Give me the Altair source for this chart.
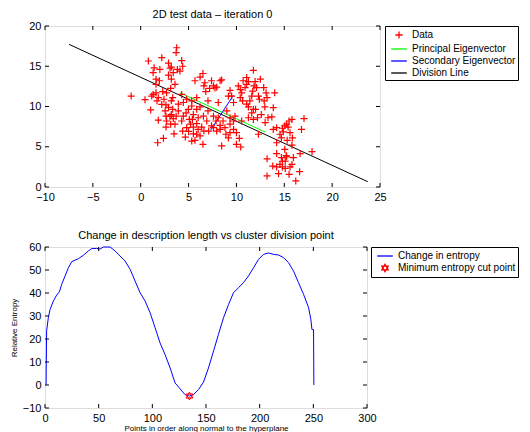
import altair as alt
import pandas as pd

FONT = "Liberation Sans"

# ---- top panel data ----
pts_x = [-1.0, 0.8, 0.45, 1.15, 1.04, 1.3, 1.4, 2.2, 2.0, 1.95, 1.6, 1.84, 1.77, 2.37, 2.3, 2.43,
         2.9, 3.06, 2.9, 3.2, 3.13, 2.64, 2.9, 2.55, 2.7, 2.64, 3.06, 3.2, 3.34, 3.4, 3.58, 3.48,
         3.76, 3.7, 3.83, 4.28, 4.38, 4.1, 3.93, 3.7, 4.28, 4.45, 4.74, 4.98, 4.38, 4.66, 4.28,
         5.08, 5.2, 5.5, 5.4, 5.67, 5.33, 5.85, 6.0, 5.85, 6.0, 5.85, 5.67, 6.37, 6.2, 6.5, 6.55,
         6.2, 6.5, 6.6, 6.8, 6.7, 7.2, 7.4, 7.6, 7.76, 7.94, 8.3, 8.46, 7.03, 8.1, 7.1, 7.4, 7.87,
         7.94, 8.46, 8.3, 8.6, 8.8, 8.9, 9.16, 9.33, 9.5, 9.33, 9.7, 10.0, 9.85, 10.0, 10.3, 10.45,
         10.4, 10.2, 10.55, 10.65, 10.9, 11.07, 11.25, 11.07, 11.25, 11.4, 11.6, 11.7, 11.84, 11.77,
         11.95, 12.1, 12.3, 12.4, 12.0, 12.2, 11.77, 12.6, 13.1, 12.9, 12.97, 13.3, 13.7, 14.0,
         13.85, 12.3, 13.85, 14.2, 14.55, 14.8, 15.05, 15.25, 15.5, 15.8, 15.6, 15.85, 15.4, 17.06,
         16.8, 17.9, 16.65, 15.8, 15.05, 14.2, 13.2, 14.7, 15.25, 15.95, 13.8, 14.2, 14.55, 14.8,
         15.1, 15.6, 15.8, 14.4, 13.2, 16.2, 16.6, 15.1,
         4.8, 5.33, 4.45, 3.93, 5.85, 6.2, 7.03, 7.6, 9.0, 9.33, 9.7, 10.55, 8.1, 8.3, 9.33, 7.6,
         6.9, 6.6, 5.0, 5.5, 5.33, 4.8, 5.5, 3.34, 2.2, 1.7, 1.3, 1.6, 1.84, 2.7, 3.58, 3.4, 3.2,
         1.6, 2.64, 3.13, 3.2, 11.25, 11.6, 11.77, 12.5, 12.85, 13.2, 11.07, 10.7, 10.4, 9.7, 9.16,
         13.0, 14.9, 15.3, 14.7, 14.2, 15.2, 14.8, 15.5]
pts_y = [11.3, 15.65, 10.85, 11.3, 9.57, 14.2, 14.8, 16.07, 14.6, 13.2, 12.75, 8.3, 5.5, 6.05, 11.85, 10.9,
         15.4, 14.75, 13.9, 13.4, 12.25, 10.2, 9.9, 9.45, 8.2, 7.45, 8.8, 10.7, 11.1, 8.5, 7.8, 6.6,
         17.3, 16.7, 14.6, 15.7, 15.0, 14.4, 9.45, 8.8, 8.2, 8.8, 9.2, 9.65, 6.95, 6.2, 11.5,
         8.4, 7.8, 7.45, 8.4, 13.2, 10.7, 9.65, 8.6, 7.87, 7.15, 6.55, 5.8, 7.45, 6.35, 5.3, 8.8,
         13.65, 14.1, 12.55, 11.85, 12.95, 12.25, 13.2, 12.55, 12.3, 12.4, 13.2, 13.3, 10.7, 10.5, 6.95, 7.6, 8.2,
         6.95, 5.1, 7.66, 8.2, 7.37, 6.55, 6.1, 12.0, 11.3, 7.8, 7.15, 6.75, 8.8, 5.3, 6.05, 4.97,
         12.1, 12.55, 11.7, 10.7, 12.35, 13.6, 13.1, 10.3, 9.95, 10.7, 11.3, 11.9, 12.55, 14.5,
         13.1, 12.35, 11.3, 10.9, 9.65, 8.6, 8.4, 9.0, 11.7, 10.7, 9.95, 8.6, 8.7, 11.7,
         9.85, 6.55, 7.15, 7.37, 6.55, 7.3, 7.6, 7.8, 8.2, 8.4, 6.75, 6.1, 7.45, 8.5,
         7.15, 4.4, 4.15, 5.2, 4.68, 4.15, 3.5, 3.65, 3.73, 3.65, 2.6, 2.5, 2.8, 2.5,
         2.3, 2.5, 2.8, 1.65, 1.37, 0.75, 1.9, 3.2,
         10.9, 10.06, 10.5, 10.3, 11.1, 9.95, 9.45, 8.8, 9.45, 8.6, 8.2, 8.2, 8.6, 7.15, 6.75, 7.37,
         8.2, 6.95, 6.9, 6.6, 5.7, 7.37, 9.0, 9.65, 10.26, 10.7, 11.5, 11.7, 11.1, 11.7, 12.75, 14.2, 14.9,
         13.4, 8.8, 7.8, 9.0, 8.6, 9.2, 9.65, 13.4, 12.35, 11.1, 12.75, 13.2, 11.1, 10.5, 11.3,
         8.0, 6.85, 5.8, 6.1, 5.5, 3.9, 3.2, 1.57]

div_x = [-7.49, 23.72]
div_y = [17.72, 0.66]
prin_x = [4.1, 13.0]
prin_y = [11.7, 6.83]
sec_x = [7.31, 9.68]
sec_y = [7.08, 11.39]

top_series = ["Data", "Principal Eigenvector", "Secondary Eigenvector", "Division Line"]
top_colors = ["#ff0000", "#00ff00", "#0000ff", "#000000"]

# ---- bottom panel data ----
ent_x = [1, 1.5, 3.1, 4.7, 7.8, 10.9, 13.4, 15.5, 18.7, 21.8, 24.9, 28, 31.1, 35.7, 40.4, 43.5,
         48.2, 51.3, 54.4, 60.6, 65.3, 69.9, 74.6, 79.3, 83.9, 88.6, 93.3, 97.9, 102.6, 107.2,
         111.9, 116.6, 121.2, 125.9, 130.5, 134.6, 138.3, 143, 147.6, 152.3, 157, 161.6, 166.3,
         171, 175.6, 180.3, 184.9, 189.6, 194.3, 198.9, 203.6, 208.3, 212.9, 217.6, 222.2, 226.9,
         231.6, 236.2, 240.9, 245.6, 247.7, 248.7, 250.2, 250.5]
ent_y = [0, 23.5, 29.2, 32.8, 36.5, 39.1, 40.5, 43.7, 47.4, 51, 53.6, 54.3, 54.9, 56.4, 58.3, 59.3,
         59.4, 59.1, 60, 60, 58.3, 56.1, 53.9, 50.3, 45.2, 40.1, 36.5, 31.4, 24.9, 18.3,
         13.2, 7.4, 0.9, -1.7, -4.2, -4.8, -4.2, -2, 1.2, 7.4, 14.7, 22, 29.2,
         35, 40.1, 42.3, 44.5, 47.4, 51, 54.6, 56.8, 57.4, 56.8, 56.5, 55.4, 53.2,
         49.5, 44.5, 39.4, 33.6, 28.5, 24.1, 24.1, 0]
min_x = [134.6]
min_y = [-4.8]

bot_series = ["Change in entropy", "Minimum entropy cut point"]
bot_colors = ["#0000ff", "#ff0000"]

top_xticks = [-10, -5, 0, 5, 10, 15, 20, 25]
top_yticks = [0, 5, 10, 15, 20]
bot_xticks = [0, 50, 100, 150, 200, 250, 300]
bot_yticks = [-10, 0, 10, 20, 30, 40, 50, 60]

PLUS = "M-1,0L1,0M0,-1L0,1"
PLUS_S = "M-0.6,0L0.6,0M0,-0.6L0,0.6"
LINE_S = "M-1.3,0L1.3,0"
HEX = "M0,-1L0.866,0.5L-0.866,0.5ZM0,1L0.866,-0.5L-0.866,-0.5Z"
HEX_S = "M0,-0.62L0.537,0.31L-0.537,0.31ZM0,0.62L0.537,-0.31L-0.537,-0.31Z"


def axis(values, title=None, title_pad=4):
    kw = dict(values=values, ticks=False, domain=False, grid=False, labelPadding=4,
              labelFont=FONT, labelFontSize=11, labelColor="black", labelFlush=False,
              labelOverlap=False, titleFont=FONT, titleFontSize=8, titleFontWeight="normal",
              titleColor="black")
    if title is not None:
        kw["title"] = title
        kw["titlePadding"] = title_pad
    else:
        kw["title"] = None
    return alt.Axis(**kw)


def ticks_layers(xticks, yticks, xs, ys, ax, ay, W, H):
    tx = pd.DataFrame({"t": xticks})
    ty = pd.DataFrame({"t": yticks})
    base_x = alt.Chart(tx).mark_rule(color="black", strokeWidth=1)
    base_y = alt.Chart(ty).mark_rule(color="black", strokeWidth=1)
    return [
        base_x.encode(x=alt.X("t:Q", scale=xs, axis=ax), y=alt.value(H), y2=alt.value(H - 4)),
        base_x.encode(x=alt.X("t:Q", scale=xs, axis=ax), y=alt.value(0), y2=alt.value(4)),
        base_y.encode(y=alt.Y("t:Q", scale=ys, axis=ay), x=alt.value(0), x2=alt.value(4)),
        base_y.encode(y=alt.Y("t:Q", scale=ys, axis=ay), x=alt.value(W), x2=alt.value(W - 4)),
    ]


def legend(x):
    return alt.Legend(title=None, orient="none", legendX=x, legendY=0,
                      strokeColor="black", fillColor="white", padding=2,
                      symbolSize=144, symbolStrokeWidth=1.3, symbolOpacity=1,
                      symbolOffset=5, labelOffset=6,
                      labelFont=FONT, labelFontSize=10, labelColor="black",
                      rowPadding=0, labelLimit=400)


# ---------------- top panel ----------------
W1, H1 = 335, 161
xs1 = alt.Scale(domain=[-10, 25], nice=False, zero=False)
ys1 = alt.Scale(domain=[0, 20], nice=False, zero=False)
ax1 = axis(top_xticks)
ay1 = axis(top_yticks)

scatter = alt.Chart(pd.DataFrame({"x": pts_x, "y": pts_y})).mark_point(
    shape=PLUS, size=49, filled=False, color="#ff0000", strokeWidth=1.2, opacity=1
).encode(
    x=alt.X("x:Q", scale=xs1, axis=ax1),
    y=alt.Y("y:Q", scale=ys1, axis=ay1),
)


def seg(xv, yv, color):
    return alt.Chart(pd.DataFrame({"x": xv, "y": yv})).mark_line(
        color=color, strokeWidth=1
    ).encode(x=alt.X("x:Q", scale=xs1, axis=ax1), y=alt.Y("y:Q", scale=ys1, axis=ay1))


div_line = seg(div_x, div_y, "#000000")
prin_line = seg(prin_x, prin_y, "#00ff00")
sec_line = seg(sec_x, sec_y, "#0000ff")

leg1 = alt.Chart(pd.DataFrame({"s": top_series})).mark_point(
    opacity=0, filled=False, size=144
).encode(
    x=alt.value(10), y=alt.value(10),
    color=alt.Color("s:N", scale=alt.Scale(domain=top_series, range=top_colors),
                    legend=legend(340)),
    shape=alt.Shape("s:N", scale=alt.Scale(domain=top_series,
                                           range=[PLUS_S, LINE_S, LINE_S, LINE_S]),
                    legend=None),
)

top = alt.layer(
    div_line, prin_line, sec_line, scatter, leg1,
    *ticks_layers(top_xticks, top_yticks, xs1, ys1, ax1, ay1, W1, H1)
).properties(
    width=W1, height=H1,
    title=alt.TitleParams("2D test data \u2013 iteration 0", font=FONT, fontSize=11,
                          fontWeight="normal", color="black", offset=-3, dy=-3),
)

# ---------------- bottom panel ----------------
W2, H2 = 322, 161
xs2 = alt.Scale(domain=[0, 300], nice=False, zero=False)
ys2 = alt.Scale(domain=[-10, 60], nice=False, zero=False)
ax2 = axis(bot_xticks, "Points in order along normal to the hyperplane", title_pad=1)
ay2 = axis(bot_yticks, "Relative Entropy", title_pad=4)

curve = alt.Chart(pd.DataFrame({"x": ent_x, "y": ent_y})).mark_line(
    color="#0000ff", strokeWidth=1
).encode(
    x=alt.X("x:Q", scale=xs2, axis=ax2),
    y=alt.Y("y:Q", scale=ys2, axis=ay2),
)
star = alt.Chart(pd.DataFrame({"x": min_x, "y": min_y})).mark_point(
    shape=HEX, size=64, filled=False, color="#ff0000", strokeWidth=1, opacity=1
).encode(x=alt.X("x:Q", scale=xs2, axis=ax2), y=alt.Y("y:Q", scale=ys2, axis=ay2))

leg2 = alt.Chart(pd.DataFrame({"s": bot_series})).mark_point(
    opacity=0, filled=False, size=144
).encode(
    x=alt.value(10), y=alt.value(10),
    color=alt.Color("s:N", scale=alt.Scale(domain=bot_series, range=bot_colors),
                    legend=legend(326)),
    shape=alt.Shape("s:N", scale=alt.Scale(domain=bot_series, range=[LINE_S, HEX_S]),
                    legend=None),
)

bottom = alt.layer(
    curve, star, leg2,
    *ticks_layers(bot_xticks, bot_yticks, xs2, ys2, ax2, ay2, W2, H2)
).properties(
    width=W2, height=H2,
    title=alt.TitleParams("Change in description length vs cluster division point", font=FONT,
                          fontSize=11, fontWeight="normal", color="black", offset=0.5),
)

chart = alt.vconcat(top, bottom, spacing=26).resolve_scale(
    color="independent", shape="independent", x="independent", y="independent"
).configure_view(stroke="black", strokeWidth=1).configure(background="white").properties(
    padding={"left": 1, "top": 0, "right": 1, "bottom": 0}
)

chart.save("out.html", embed_options={"renderer": "svg", "actions": False})
